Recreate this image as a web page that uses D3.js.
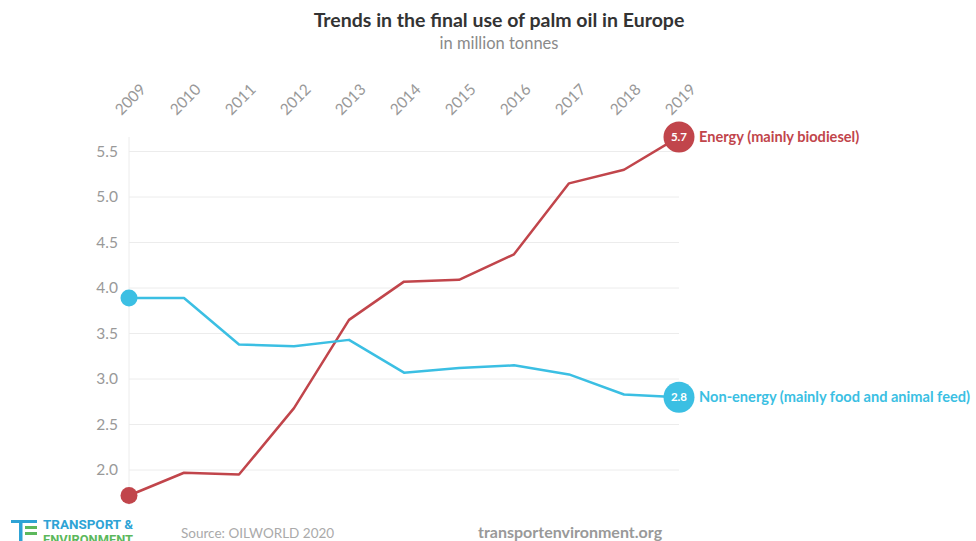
<!DOCTYPE html>
<html>
<head>
<meta charset="utf-8">
<script src="https://cdn.jsdelivr.net/npm/d3@7/dist/d3.min.js"></script>
<style>
  html, body { margin: 0; padding: 0; background: #fff; }
  svg { display: block; }
</style>
</head>
<body>
<svg id="chart" width="976" height="541"></svg>
<script>
// Final use of palm oil in Europe, million tonnes
const years = [2009, 2010, 2011, 2012, 2013, 2014, 2015, 2016, 2017, 2018, 2019];
const energy = [1.72, 1.97, 1.95, 2.68, 3.65, 4.07, 4.09, 4.37, 5.15, 5.30, 5.66];
const nonEnergy = [3.89, 3.89, 3.38, 3.36, 3.43, 3.07, 3.12, 3.15, 3.05, 2.83, 2.80];
const yTicks = [2.0, 2.5, 3.0, 3.5, 4.0, 4.5, 5.0, 5.5];
const seriesNames = ["Energy (mainly biodiesel)", "Non-energy (mainly food and animal feed)"];

const series = [
  { name: seriesNames[0], values: energy, color: "#c1454b" },
  { name: seriesNames[1], values: nonEnergy, color: "#3bbfe3" }
];

const svg = d3.select("#chart");
const font = "Lato, 'Open Sans', sans-serif";

const x = d3.scalePoint().domain(years).range([129, 679]);
const y = d3.scaleLinear().domain([2.0, 5.5]).range([470, 151.5]);

// Title block
svg.append("text")
  .attr("x", 499).attr("y", 27)
  .attr("text-anchor", "middle")
  .attr("font-family", font).attr("font-weight", 700)
  .attr("font-size", 19.5).attr("fill", "#333")
  .text("Trends in the final use of palm oil in Europe");
svg.append("text")
  .attr("x", 499).attr("y", 49)
  .attr("text-anchor", "middle")
  .attr("font-family", font)
  .attr("font-size", 16.5).attr("fill", "#8a8a8a")
  .text("in million tonnes");

// Horizontal grid lines
svg.append("g").selectAll("line")
  .data(yTicks).join("line")
  .attr("x1", x(years[0])).attr("x2", x(years[years.length - 1]))
  .attr("y1", d => y(d)).attr("y2", d => y(d))
  .attr("stroke", "#ececec").attr("stroke-width", 1);

// Vertical baseline at the first year
svg.append("line")
  .attr("x1", x(years[0])).attr("x2", x(years[0]))
  .attr("y1", 137).attr("y2", 505)
  .attr("stroke", "#ececec").attr("stroke-width", 1);

// Y axis labels
const yAxis = d3.axisLeft(y).tickValues(yTicks).tickFormat(d3.format(".1f")).tickSize(0).tickPadding(11);
const gy = svg.append("g").attr("transform", `translate(${x(years[0])},0)`).call(yAxis);
gy.select(".domain").remove();
gy.selectAll("text")
  .attr("font-family", font).attr("font-size", 15.5).attr("fill", "#999");

// X axis labels on top, rotated
const xAxis = d3.axisTop(x).tickSize(0).tickFormat(d3.format("d"));
const gx = svg.append("g").attr("transform", "translate(0,118)").call(xAxis);
gx.select(".domain").remove();
gx.selectAll("text")
  .attr("font-family", font).attr("font-size", 15.5).attr("fill", "#999")
  .attr("text-anchor", "start")
  .attr("dy", 0)
  .attr("transform", "translate(-6,0) rotate(-45)");

// Lines
const line = d3.line()
  .x((d, i) => x(years[i]))
  .y(d => y(d));

series.forEach(s => {
  svg.append("path")
    .datum(s.values)
    .attr("d", line)
    .attr("fill", "none")
    .attr("stroke", s.color)
    .attr("stroke-width", 2.5)
    .attr("stroke-linejoin", "round");

  // Start marker
  svg.append("circle")
    .attr("cx", x(years[0])).attr("cy", y(s.values[0]))
    .attr("r", 8.5).attr("fill", s.color);

  // End marker with value
  const last = s.values[s.values.length - 1];
  const ex = x(years[years.length - 1]);
  const ey = y(last);
  svg.append("circle")
    .attr("cx", ex).attr("cy", ey)
    .attr("r", 15.5).attr("fill", s.color);
  svg.append("text")
    .attr("x", ex).attr("y", ey)
    .attr("dy", "0.35em")
    .attr("text-anchor", "middle")
    .attr("font-family", font).attr("font-weight", 700)
    .attr("font-size", 11.5).attr("fill", "#fff")
    .text(d3.format(".1f")(last));
  svg.append("text")
    .attr("x", ex + 20).attr("y", ey)
    .attr("dy", "0.35em")
    .attr("font-family", font).attr("font-weight", 700)
    .attr("font-size", 14.6).attr("fill", s.color)
    .text(s.name);
});

// Footer: logo
const logo = svg.append("g");
logo.append("rect").attr("x", 11).attr("y", 520).attr("width", 26).attr("height", 3).attr("fill", "#2ea3d5");
logo.append("rect").attr("x", 19).attr("y", 520).attr("width", 3.5).attr("height", 21).attr("fill", "#2ea3d5");
logo.append("rect").attr("x", 25).attr("y", 526).attr("width", 12).attr("height", 3).attr("fill", "#5cb85c");
logo.append("rect").attr("x", 25).attr("y", 532).attr("width", 12).attr("height", 3).attr("fill", "#5cb85c");
logo.append("text")
  .attr("x", 43).attr("y", 529)
  .attr("font-family", "'Roboto', 'Liberation Sans Narrow', sans-serif")
  .attr("font-weight", 700).attr("font-size", 12.5).attr("fill", "#2ea3d5")
  .attr("textLength", 90).attr("lengthAdjust", "spacingAndGlyphs")
  .text("TRANSPORT &");
logo.append("text")
  .attr("x", 43).attr("y", 544)
  .attr("font-family", "'Roboto', 'Liberation Sans Narrow', sans-serif")
  .attr("font-weight", 700).attr("font-size", 12.5).attr("fill", "#5cb85c")
  .attr("textLength", 90).attr("lengthAdjust", "spacingAndGlyphs")
  .text("ENVIRONMENT");

// Footer: source and site
svg.append("text")
  .attr("x", 181).attr("y", 538)
  .attr("font-family", font).attr("font-size", 13.5).attr("fill", "#aaa")
  .text("Source: OILWORLD 2020");
svg.append("text")
  .attr("x", 478).attr("y", 538)
  .attr("font-family", font).attr("font-weight", 700).attr("font-size", 16).attr("fill", "#999")
  .text("transportenvironment.org");
</script>
</body>
</html>
